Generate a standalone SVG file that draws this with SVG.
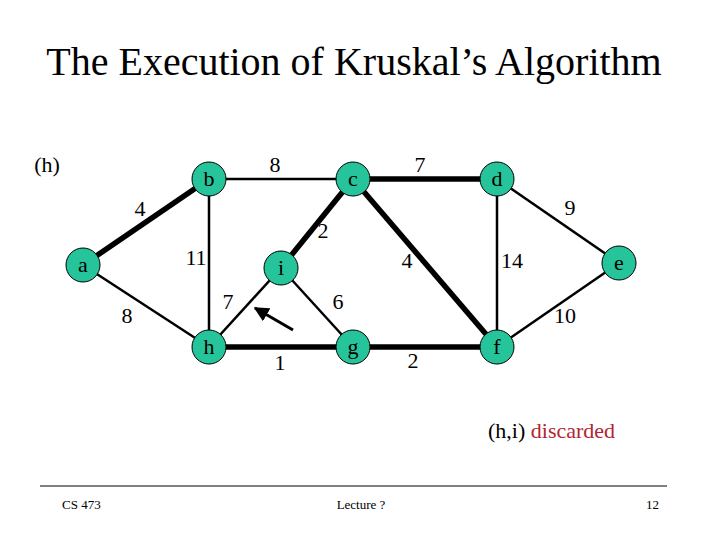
<svg xmlns="http://www.w3.org/2000/svg" width="720" height="540" viewBox="0 0 720 540" font-family="Liberation Serif, DejaVu Serif, Times, serif">
<defs>
<style>
.lbl{font-size:22px;text-anchor:middle}
.nd circle{fill:#26C49A;stroke:#000;stroke-width:1}
.nd text{font-size:22px;text-anchor:middle;fill:#000}
.thin{stroke:#000;stroke-width:2.5}
.thick{stroke:#000;stroke-width:5.5}
</style>
<marker id="ah" viewBox="0 0 10 10" refX="9" refY="5" markerWidth="5" markerHeight="5" orient="auto"><path d="M0,0 L10,5 L0,10 z" fill="#000"/></marker>
</defs>
<rect width="720" height="540" fill="#fff"/>
<text x="354" y="75" font-size="40" text-anchor="middle" font-family="Liberation Serif">The Execution of Kruskal’s Algorithm</text>
<text x="47" y="172" font-size="22" text-anchor="middle">(h)</text>
<g id="connectors">
<line class="thick" x1="83" y1="265" x2="209" y2="179"/>
<line class="thin" x1="209" y1="179" x2="353" y2="179"/>
<line class="thin" x1="209" y1="179" x2="209" y2="347"/>
<line class="thin" x1="83" y1="265" x2="209" y2="347"/>
<line class="thick" x1="353" y1="179" x2="281" y2="268"/>
<line class="thin" x1="281" y1="268" x2="209" y2="347"/>
<line class="thin" x1="281" y1="268" x2="353" y2="347"/>
<line class="thick" x1="209" y1="347" x2="353" y2="347"/>
<line class="thick" x1="353" y1="179" x2="497" y2="179"/>
<line class="thick" x1="353" y1="179" x2="497" y2="347"/>
<line class="thick" x1="353" y1="347" x2="497" y2="347"/>
<line class="thin" x1="497" y1="179" x2="497" y2="347"/>
<line class="thin" x1="497" y1="179" x2="619" y2="263"/>
<line class="thin" x1="619" y1="263" x2="497" y2="347"/>
<line stroke="#000" stroke-width="3" x1="293" y1="330" x2="255" y2="308" marker-end="url(#ah)"/>
</g>
<g id="edge-labels" class="lbl">
<text x="140" y="216">4</text>
<text x="275" y="172">8</text>
<text x="323" y="238">2</text>
<text x="196" y="265">11</text>
<text x="228" y="309">7</text>
<text x="338" y="309">6</text>
<text x="127" y="323">8</text>
<text x="280" y="370">1</text>
<text x="420" y="172">7</text>
<text x="570" y="215">9</text>
<text x="407" y="268">4</text>
<text x="512" y="268">14</text>
<text x="565" y="323">10</text>
<text x="413" y="368">2</text>
</g>
<g id="node-a" class="nd"><circle cx="83" cy="265" r="17"/><text x="83" y="272">a</text></g>
<g id="node-b" class="nd"><circle cx="209" cy="179" r="17"/><text x="209" y="186">b</text></g>
<g id="node-c" class="nd"><circle cx="353" cy="179" r="17"/><text x="353" y="186">c</text></g>
<g id="node-d" class="nd"><circle cx="497" cy="179" r="17"/><text x="497" y="186">d</text></g>
<g id="node-e" class="nd"><circle cx="619" cy="263" r="17"/><text x="619" y="270">e</text></g>
<g id="node-f" class="nd"><circle cx="497" cy="347" r="17"/><text x="497" y="354">f</text></g>
<g id="node-g" class="nd"><circle cx="353" cy="347" r="17"/><text x="353" y="354">g</text></g>
<g id="node-h" class="nd"><circle cx="209" cy="347" r="17"/><text x="209" y="354">h</text></g>
<g id="node-i" class="nd"><circle cx="281" cy="268" r="17"/><text x="281" y="275">i</text></g>
<text x="488" y="438" font-size="22">(h,i) <tspan fill="#B22530">discarded</tspan></text>
<line x1="40" y1="486" x2="667" y2="486" stroke="#000" stroke-width="1"/>
<text x="62" y="509" font-size="13">CS 473</text>
<text x="361" y="509" font-size="13" text-anchor="middle">Lecture ?</text>
<text x="659" y="509" font-size="13" text-anchor="end">12</text>
</svg>
